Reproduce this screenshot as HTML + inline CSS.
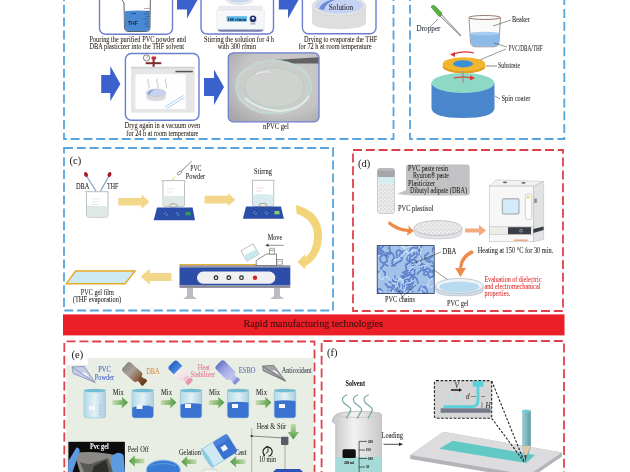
<!DOCTYPE html>
<html><head><meta charset="utf-8">
<style>
html,body{margin:0;padding:0;background:#fff;width:630px;height:472px;overflow:hidden}
svg{display:block;font-family:"Liberation Serif",serif;filter:blur(0.35px)}
</style></head>
<body>
<svg width="630" height="472" viewBox="0 0 630 472">
<defs>
  <linearGradient id="gPhoto" x1="0" y1="0" x2="1" y2="1">
    <stop offset="0" stop-color="#b8b8b8"/><stop offset="0.5" stop-color="#d0d0d0"/><stop offset="1" stop-color="#a8a8a8"/>
  </linearGradient>
</defs>
<rect width="630" height="472" fill="#fff"/>

<!-- ===== panel frames ===== -->
<g fill="none" stroke-width="1.8" stroke-dasharray="9 3.8">
  <path d="M64,-8 V139 H393.5 V-8" stroke="#58a4dc"/>
  <path d="M410,-8 V139 H564.3 V-8" stroke="#58a4dc"/>
  <path d="M64,148 H333 V310.5 H64 Z" stroke="#58a4dc"/>
  <path d="M353,150 H563 V311 H353 Z" stroke="#e0404c"/>
  <path d="M64.3,480 V341.5 H314.5 V480" stroke="#e0404c"/>
  <path d="M321.6,480 V341 H564 V480" stroke="#e0404c"/>
</g>


<!-- ===== panel a ===== -->
<g id="pa">
  <!-- boxes row1 -->
  <g fill="#fff" stroke="#6c7ed0" stroke-width="1.4">
    <rect x="99.5" y="-30" width="73" height="64.3" rx="6"/>
    <rect x="201" y="-30" width="72.5" height="64" rx="6"/>
    <rect x="302.4" y="-30" width="73.6" height="63.7" rx="6"/>
    <rect x="125.4" y="53.5" width="73.6" height="66.8" rx="6"/>
  </g>
  <!-- arrows -->
  <g fill="#3b62cc">
    <path d="M177,-9.5 H187 V-18.5 L197.5,0 L187,18.5 V9.5 H177 Z"/>
    <path d="M278.8,-9.5 H288 V-18.5 L298.5,0 L288,18.5 V9.5 H278.8 Z"/>
    <path d="M101.2,75 H110.3 V66 L120.4,84 L110.3,101.3 V93 H101.2 Z"/>
    <path d="M204,78 H214 V69.4 L224,87 L214,105 V96 H204 Z"/>
  </g>
  <!-- beaker box1 -->
  <g>
    <path d="M120.5,-1 Q123,0 124,3 L124.5,28 Q124.8,31.5 128,31.5 L146.5,31.5 Q150,31.5 150,28 L150.3,1 Q151,-1 152,-2" fill="#fff" stroke="#3a3a3a" stroke-width="0.8"/>
    <path d="M124.6,11.2 Q137,9.8 150,11 L149.8,28 Q149.6,31 146.5,31 L128,31 Q125,31 124.9,28 Z" fill="#4a8ad4"/>
    <text x="127.8" y="24.5" font-size="5.2" font-family="Liberation Sans" font-weight="bold" fill="#1a2440">THF</text>
    <g stroke="#1a2030" stroke-width="0.35"><path d="M144,8.5 H149.5 M145.5,11.5 H149.5 M143.5,14 H149.5 M145.5,16.5 H149.5 M143.5,19 H149.5 M145.5,21.5 H149.5 M143.5,24 H149.5 M145.5,26.5 H149.5"/></g>
    <path d="M131,13.5 H136" stroke="#1a2440" stroke-width="0.6"/>
  </g>
  <!-- balance box2 -->
  <g>
    <ellipse cx="239.5" cy="-0.5" rx="13.5" ry="5" fill="#f0f0f4" stroke="#c8c8d0" stroke-width="0.6"/>
    <ellipse cx="239.5" cy="-1" rx="11" ry="3.8" fill="#c6d6ee"/>
    <path d="M219,6.2 H262 L262.5,10.2 H218.5 Z" fill="#ececf0" stroke="#d4d6dc" stroke-width="0.4"/>
    <path d="M216.6,10.2 H264.5 L264,29.5 Q264,31.2 261,31.2 L220,31.2 Q217,31.2 217,29.5 Z" fill="#f6f7f9" stroke="#dcdee4" stroke-width="0.5"/>
    <path d="M217.5,29.6 H263.5 Q263,31.8 260,31.8 H221 Q218,31.8 217.5,29.6 Z" fill="#7880b0"/>
    <rect x="226.7" y="16.2" width="20.3" height="5.4" fill="#5ab8e8"/>
    <text x="227.6" y="20.8" font-size="4.8" font-weight="bold" fill="#0a1430" textLength="18.5" lengthAdjust="spacingAndGlyphs">100 rfmin</text>
    <circle cx="253" cy="18.9" r="3.9" fill="#c8cce0"/>
    <circle cx="253" cy="18.9" r="3.1" fill="#1e2a6a"/>
    <circle cx="253" cy="18.2" r="1.2" fill="#e8ecf8"/>
    <rect x="250.5" y="23.5" width="5" height="0.8" fill="#778"/>
  </g>
  <!-- dish box3 -->
  <g>
    <path d="M312,6 L312,22 Q312,29 339,29 Q366,29 366,22 L366,6 Z" fill="#dedede"/>
    <ellipse cx="339" cy="6" rx="27" ry="10" fill="#e4e4e4" stroke="#d0d0d0" stroke-width="0.6"/>
    <ellipse cx="339" cy="5.5" rx="24" ry="8" fill="#c6d2f2"/>
    <path d="M319,9 Q322,0 338,-1 Q326,2 324,10 Z" fill="#6d8ad8"/>
    <text x="341" y="9.8" font-size="7.2" text-anchor="middle" fill="#2a2a30" stroke="#2a2a30" stroke-width="0.06">Solution</text>
  </g>
  <!-- vacuum oven -->
  <g>
    <rect x="131" y="66.8" width="63.6" height="45.9" fill="#e6e6e8"/>
    <rect x="131" y="66.8" width="63.6" height="1.6" fill="#d2d2d6"/>
    <rect x="135.4" y="74.2" width="50.3" height="34.8" fill="#fefefe"/>
    <path d="M145.7,62.2 H161.3 V64.2 H145.7 Z" fill="#7a3028"/>
    <rect x="152.6" y="58" width="2" height="8.8" fill="#7a3028"/>
    <circle cx="146.5" cy="57.9" r="3.1" fill="#fff" stroke="#333" stroke-width="0.6"/>
    <path d="M146.5,57.9 L148,56" stroke="#333" stroke-width="0.4"/>
    <rect x="151.5" y="56.6" width="4.6" height="3" rx="1" fill="#c82838"/>
    <rect x="175.4" y="70.8" width="17.4" height="1.5" fill="#555"/>
    <path d="M146.4,92.7 V97 Q146.4,100.9 156,100.9 Q165.7,100.9 165.7,97 V92.7 Z" fill="#dadade"/>
    <ellipse cx="156" cy="92.7" rx="9.7" ry="3.7" fill="#c8d4ee" stroke="#b8b8bc" stroke-width="0.5"/>
    <path d="M147.8,94 Q149,90.5 155,89.6 Q150,91.5 149.5,94.5 Z" fill="#6d8ad8"/>
    <g fill="none" stroke="#b0b0b4" stroke-width="0.7">
      <path d="M148.5,78.7 q-1.6,2.4 0,4.8 q1.6,2.4 0,4.8"/>
      <path d="M157.5,78.7 q-1.6,2.4 0,4.8 q1.6,2.4 0,4.8"/>
      <path d="M166,78.7 q-1.6,2.4 0,4.8 q1.6,2.4 0,4.8"/>
    </g>
    <path d="M164.5,107 L183.5,95.5 M166.5,108.5 L184.5,97.5" stroke="#98c4e8" stroke-width="0.8"/>
  </g>
  <!-- photo -->
  <g>
    <defs>
      <radialGradient id="gPhotoR" cx="0.6" cy="0.4" r="0.75">
        <stop offset="0" stop-color="#cecece"/><stop offset="0.65" stop-color="#c4c4c4"/><stop offset="1" stop-color="#a8a8a8"/>
      </radialGradient>
    </defs>
    <rect x="228.3" y="52.8" width="90.7" height="69" rx="5" fill="url(#gPhotoR)" stroke="#6c7ed0" stroke-width="1.3"/>
    <path d="M274.3,60 L318.5,57.3 L318.5,63.5 L275,63.5 Z" fill="#626264"/>
    <ellipse cx="273.5" cy="87" rx="37.5" ry="26.5" fill="#cbcdcb" stroke="#dfe9e4" stroke-width="1.6"/>
    <ellipse cx="273.5" cy="87" rx="37.5" ry="26.5" fill="none" stroke="#7cb8a0" stroke-width="0.5"/>
    <ellipse cx="274.5" cy="87.5" rx="29.5" ry="19.8" fill="#d0d2d0" stroke="#b0ccc0" stroke-width="0.8"/>
    <path d="M245,98 Q258,110 280,111 Q300,110 309,96" fill="none" stroke="#e2ece6" stroke-width="2"/>
    <path d="M256,74 Q262,71 270,72" stroke="#ececec" stroke-width="1.2" fill="none"/>
  </g>
  <!-- captions -->
  <g font-size="7.2" fill="#2a2218" stroke="#2a2218" stroke-width="0.06">
    <text x="89.4" y="42.4" textLength="96.5" lengthAdjust="spacingAndGlyphs">Pouring the purified PVC powder and</text>
    <text x="89.4" y="48.8" textLength="94.7" lengthAdjust="spacingAndGlyphs">DBA plasticizer into the THF solvent</text>
    <text x="204.1" y="42.4" textLength="69.8" lengthAdjust="spacingAndGlyphs">Stirring the solution for 4 h</text>
    <text x="217.7" y="48.8" textLength="38.4" lengthAdjust="spacingAndGlyphs">with 300 rfmin</text>
    <text x="304" y="42.4" textLength="73.3" lengthAdjust="spacingAndGlyphs">Drying to evaporate the THF</text>
    <text x="298.4" y="48.8" textLength="73.3" lengthAdjust="spacingAndGlyphs">for 72 h at room temperature</text>
    <text x="124.6" y="128.1" textLength="75.6" lengthAdjust="spacingAndGlyphs">Dryg again in a vacuum oven</text>
    <text x="126.3" y="136" textLength="72.1" lengthAdjust="spacingAndGlyphs">for 24 h at room temperature</text>
    <text x="262.9" y="129" textLength="26" lengthAdjust="spacingAndGlyphs">nPVC gel</text>
  </g>
</g>


<!-- ===== panel b ===== -->
<g id="pb">
  <!-- dropper -->
  <path d="M440,16 L459,34.5 L461,36 L459.5,34 L441.5,14.5 Z" fill="#f4f4f4" stroke="#555" stroke-width="0.7"/>
  <path d="M431,7 Q432,4 435,6 L442,13 Q442,16 439,16.5 Z" fill="#5cb040" stroke="#3a7a28" stroke-width="0.5"/>
  <path d="M430,27 L438,19" stroke="#444" stroke-width="0.5"/>
  <text x="416.5" y="31" font-size="7.2" fill="#2a3040" textLength="24" lengthAdjust="spacingAndGlyphs" stroke="#2a3040" stroke-width="0.06">Dropper</text>
  <!-- beaker -->
  <path d="M469,17.5 L470.5,42.5 Q471,46.8 476,46.8 L493.5,46.8 Q498.5,46.8 499,42.5 L500.5,17.5" fill="#fafafa" stroke="#8a7a74" stroke-width="0.8"/>
  <path d="M469.9,33.5 Q485,36 499.6,33.5 L499,42.5 Q498.5,46.4 493.5,46.4 L476,46.4 Q471.4,46.4 470.9,42.5 Z" fill="#8cbbe8"/>
  <ellipse cx="484.7" cy="33.5" rx="14.8" ry="1.8" fill="#a8ccf0"/>
  <ellipse cx="484.7" cy="17.5" rx="15.8" ry="2" fill="none" stroke="#8a6a60" stroke-width="0.9"/>
  <path d="M493,26 L511,20" stroke="#333" stroke-width="0.5"/>
  <text x="512" y="22" font-size="7.2" fill="#2a2a2a" textLength="18" lengthAdjust="spacingAndGlyphs" stroke="#2a2a2a" stroke-width="0.06">Beaker</text>
  <path d="M494,43 L507,47 M470,64 L506,49" stroke="#333" stroke-width="0.5" fill="none"/>
  <text x="508.6" y="51" font-size="7.2" fill="#2a2a2a" textLength="34" lengthAdjust="spacingAndGlyphs" stroke="#2a2a2a" stroke-width="0.06">PVC/DBA/THF</text>
  <!-- red rotation arrows -->
  <path d="M452,54.5 Q462,50 474,53" fill="none" stroke="#e03030" stroke-width="1.2"/>
  <path d="M450,54.5 L455,52 L455,57 Z" fill="#e03030"/>
  <!-- substrate -->
  <ellipse cx="464" cy="66.5" rx="21.4" ry="7" fill="#e0a020"/>
  <ellipse cx="464" cy="64.3" rx="21.4" ry="7" fill="#f2b530"/>
  <ellipse cx="463" cy="63.8" rx="10" ry="3.6" fill="#3a90d8"/>
  <path d="M486,66 L497,66" stroke="#333" stroke-width="0.6"/>
  <text x="498" y="68" font-size="7.2" fill="#2a2a2a" textLength="22" lengthAdjust="spacingAndGlyphs" stroke="#2a2a2a" stroke-width="0.06">Substrate</text>
  <!-- spin coater -->
  <path d="M431.5,83 L431.5,108 Q431.5,118 463,118 Q494.5,118 494.5,108 L494.5,83 Z" fill="#4a86cc"/>
  <ellipse cx="463" cy="83" rx="31.5" ry="10" fill="#8ed8c6"/>
  <rect x="462.2" y="71" width="1.6" height="12" fill="#a89898"/>
  <path d="M454,78 Q463,76 472,78" fill="none" stroke="#e03030" stroke-width="1.2"/>
  <path d="M475,78 L470,75.5 L470,80.5 Z" fill="#e03030"/>
  <path d="M495,96 L500,99" stroke="#333" stroke-width="0.5"/>
  <text x="501.4" y="101" font-size="7.2" fill="#2a2a2a" textLength="29" lengthAdjust="spacingAndGlyphs" stroke="#2a2a2a" stroke-width="0.06">Spin coater</text>
</g>


<!-- ===== panel c ===== -->
<g id="pc">
  <text x="69.5" y="164.3" font-size="10.5" fill="#222" stroke="#222" stroke-width="0.06">(c)</text>
  <!-- droppers -->
  <path d="M86.5,176 L96,191" stroke="#7aa0c8" stroke-width="1.2"/>
  <path d="M109,176 L100.5,191" stroke="#7aa0c8" stroke-width="1.2"/>
  <ellipse cx="86" cy="174.5" rx="1.8" ry="2.5" fill="#a81828" transform="rotate(-30 86 174.5)"/>
  <ellipse cx="109.5" cy="174.5" rx="1.8" ry="2.5" fill="#a81828" transform="rotate(30 109.5 174.5)"/>
  <text x="76" y="188.5" font-size="7.2" fill="#222" textLength="13.4" lengthAdjust="spacingAndGlyphs" stroke="#222" stroke-width="0.06">DBA</text>
  <text x="107" y="188.5" font-size="7.2" fill="#222" textLength="11.3" lengthAdjust="spacingAndGlyphs" stroke="#222" stroke-width="0.06">THF</text>
  <!-- beaker 1 -->
  <path d="M85.5,191.7 H108.5 L108,193.5 V215 Q108,217.2 105.5,217.2 H89 Q86.5,217.2 86.5,215 V193.5 Z" fill="#fff" stroke="#9aa0a4" stroke-width="0.7"/>
  <path d="M86.8,206 H107.7 V215 Q107.7,217 105.5,217 H89 Q86.8,217 86.8,215 Z" fill="#dfe9e4"/>
  <path d="M92,199 H100 M92,202 H98 M92,204.5 H99" stroke="#cfcfd4" stroke-width="0.5"/>
  <!-- yellow arrows -->
  <g fill="#f2d68a">
    <path d="M118.3,198 H141.5 V194.5 L149.5,201.7 L141.5,209 V205.5 H118.3 Z"/>
    <path d="M204.5,195.7 H228 V193.3 L235.5,199.7 L228,206 V203.6 H204.5 Z"/>
    <path d="M171.5,273 H149.8 V268.6 L140.6,276.7 L149.8,284.5 V281 H171.5 Z"/>
  </g>
  <!-- curved yellow arrow -->
  <path d="M296,205 Q323,212 322,238 Q321,257 305.2,266.5 L305.2,269.6 L297.4,261.9 L305.2,254.1 L305.2,257.5 Q313.5,251 314,237 Q314.5,220 296.5,213.5 Z" fill="#f2d47a"/>
  <!-- stirrer 1 -->
  <g>
    <path d="M162,180.6 H185 L184.5,182.5 V205 Q184.5,206.5 182.5,206.5 H165 Q163,206.5 163,205 V182.5 Z" fill="#fff" stroke="#9aa0a4" stroke-width="0.7"/>
    <path d="M163.3,196 H184.2 V205 Q184.2,206.3 182.5,206.3 H165 Q163.3,206.3 163.3,205 Z" fill="#dfe9e4"/>
    <path d="M167,189 H175 M167,192 H173" stroke="#cfcfd4" stroke-width="0.5"/>
    <path d="M157,207.6 H192.6 L195,220.3 H153.7 Z" fill="#2c4ea8"/>
    <ellipse cx="173.5" cy="205.5" rx="4" ry="1.6" fill="#eee" stroke="#555" stroke-width="0.5"/>
    <circle cx="166" cy="214" r="2.6" fill="#3d7ad0" stroke="#1a2a60" stroke-width="0.4"/><path d="M164.2,215.8 L167.8,212.2" stroke="#1a2040" stroke-width="0.7"/>
    <circle cx="177.5" cy="214" r="2.6" fill="#3d7ad0" stroke="#1a2a60" stroke-width="0.4"/><path d="M175.7,215.8 L179.3,212.2" stroke="#1a2040" stroke-width="0.7"/>
    <rect x="185.5" y="212" width="5" height="3.4" fill="#2aa050"/>
    <path d="M191.8,161 L181,171.5" stroke="#555" stroke-width="0.7"/>
    <ellipse cx="179.5" cy="173" rx="2.4" ry="1.4" fill="#fff" stroke="#555" stroke-width="0.6" transform="rotate(-40 179.5 173)"/>
    <path d="M176,175 L171,180 L174,180 Z" fill="#f4e8b0"/>
    <text x="195.8" y="171" font-size="7.2" fill="#222" text-anchor="middle" stroke="#222" stroke-width="0.06" textLength="11.1" lengthAdjust="spacingAndGlyphs">PVC</text>
    <text x="195.5" y="179" font-size="7.2" fill="#222" text-anchor="middle" stroke="#222" stroke-width="0.06" textLength="19.3" lengthAdjust="spacingAndGlyphs">Powder</text>
  </g>
  <!-- stirrer 2 -->
  <g>
    <path d="M252,180.3 H274.2 L273.7,182.2 V205 Q273.7,206.5 271.7,206.5 H254.5 Q252.5,206.5 252.5,205 V182.2 Z" fill="#fff" stroke="#9aa0a4" stroke-width="0.7"/>
    <path d="M252.8,195 Q263,193 273.4,195 V205 Q273.4,206.3 271.7,206.3 H254.5 Q252.8,206.3 252.8,205 Z" fill="#d8ecf0"/>
    <path d="M256,188 H264 M256,191 H262" stroke="#e8b8c0" stroke-width="0.5"/>
    <path d="M246,206.5 H281 L283.9,218.7 H242.9 Z" fill="#2c4ea8"/>
    <ellipse cx="263" cy="205" rx="4" ry="1.6" fill="#eee" stroke="#555" stroke-width="0.5"/>
    <circle cx="255" cy="213" r="2.6" fill="#3d7ad0" stroke="#1a2a60" stroke-width="0.4"/><path d="M253.2,214.8 L256.8,211.2" stroke="#1a2040" stroke-width="0.7"/>
    <circle cx="266.5" cy="213" r="2.6" fill="#3d7ad0" stroke="#1a2a60" stroke-width="0.4"/><path d="M264.7,214.8 L268.3,211.2" stroke="#1a2040" stroke-width="0.7"/>
    <rect x="274.5" y="211" width="5" height="3.4" fill="#8ad060"/>
    <text x="263" y="174" font-size="7.2" fill="#222" text-anchor="middle" stroke="#222" stroke-width="0.06" textLength="17.8" lengthAdjust="spacingAndGlyphs">Stirrng</text>
  </g>
  <!-- coating machine -->
  <g>
    <rect x="179.5" y="264" width="77" height="1.8" fill="#e8b030"/>
    <rect x="179.5" y="265.2" width="110.8" height="2.6" fill="#9a9aa8"/>
    <rect x="179.5" y="267.5" width="110.8" height="18" fill="#2c4ea8"/>
    <rect x="179.5" y="285.5" width="110.8" height="2.4" fill="#8a8a98"/>
    <rect x="197" y="271.6" width="78.4" height="12.2" rx="6.1" fill="#f0f0f2"/>
    <g fill="none" stroke="#222" stroke-width="1.2">
      <circle cx="216" cy="277.7" r="1.8"/><circle cx="228.8" cy="277.7" r="1.8"/><circle cx="241.5" cy="277.7" r="1.8"/>
    </g>
    <circle cx="255" cy="277.7" r="2.2" fill="#d82020"/>
    <path d="M187,288 H193 V296 L197,299 H183 L187,296 Z" fill="#bcbcc4"/>
    <path d="M274,288 H280 V296 L284,299 H270 L274,296 Z" fill="#bcbcc4"/>
    <!-- coater head -->
    <path d="M256.2,265.5 V260.5 L266.5,254 H276.5 V265.5 Z" fill="#fff" stroke="#444" stroke-width="0.6"/>
    <rect x="269.7" y="250" width="4.5" height="4" fill="#fff" stroke="#555" stroke-width="0.5"/>
    <rect x="269.4" y="248.3" width="5.1" height="2" rx="0.6" fill="#fff" stroke="#555" stroke-width="0.5"/>
    <rect x="276.7" y="259.5" width="5.5" height="6" fill="#fff" stroke="#555" stroke-width="0.5"/>
    <rect x="277.8" y="261" width="3.3" height="3.5" fill="#fff" stroke="#888" stroke-width="0.4"/>
    <!-- tilted cup -->
    <g transform="rotate(-30 250 252.5)">
      <rect x="243" y="246.5" width="14" height="12" fill="#fff" stroke="#8a8a8a" stroke-width="0.5"/>
      <rect x="243.3" y="252.5" width="13.4" height="5.7" fill="#c4eaf0"/>
    </g>
    <text x="275" y="240" font-size="7.2" fill="#222" text-anchor="middle" stroke="#222" stroke-width="0.06" textLength="14.4" lengthAdjust="spacingAndGlyphs">Move</text>
    <path d="M283.7,245.3 H267" stroke="#444" stroke-width="0.6"/>
    <path d="M265.3,245.3 L268.5,243.6 L268.5,247 Z" fill="#444"/>
  </g>
  <!-- film -->
  <path d="M75.6,271 H135 L125,283.7 H66.3 Z" fill="#cdeaf2" stroke="#e8a820" stroke-width="1.4"/>
  <text x="97.3" y="294.5" font-size="7.2" fill="#222" text-anchor="middle" stroke="#222" stroke-width="0.06" textLength="33" lengthAdjust="spacingAndGlyphs">PVC gel film</text>
  <text x="97" y="302" font-size="7.2" fill="#222" text-anchor="middle" stroke="#222" stroke-width="0.06" textLength="48.4" lengthAdjust="spacingAndGlyphs">(THF evaporation)</text>
</g>


<!-- ===== panel d ===== -->
<g id="pd">
  <defs>
    <pattern id="speck" width="4" height="4" patternUnits="userSpaceOnUse">
      <rect width="4" height="4" fill="#ececec"/>
      <circle cx="1" cy="1" r="0.6" fill="#a8a8b0"/><circle cx="3" cy="2.8" r="0.55" fill="#b8b8c0"/>
    </pattern>
    <pattern id="chains" width="14" height="12" patternUnits="userSpaceOnUse">
      <rect width="14" height="12" fill="#8ab4e8"/>
      <path d="M0,3 Q4,0 7,4 T14,3 M2,10 Q6,6 9,9 T14,8 M3,0 Q1,6 5,7" fill="none" stroke="#3a62b8" stroke-width="1.2"/>
      <path d="M8,1 Q12,4 10,7 M1,6 Q4,8 3,12" fill="none" stroke="#bcd6f4" stroke-width="0.9"/>
    </pattern>
  </defs>
  <text x="358" y="166.5" font-size="10.5" fill="#222" stroke="#222" stroke-width="0.06">(d)</text>
  <!-- vial -->
  <rect x="377.5" y="169" width="17" height="44.5" rx="2.5" fill="#e8f2f4" stroke="#a8b0b4" stroke-width="0.6"/>
  <rect x="377.3" y="168.3" width="17.4" height="9" rx="2.5" fill="#a4a6aa"/>
  <ellipse cx="386" cy="169.5" rx="8.4" ry="1.5" fill="#b8babe"/>
  <rect x="378" y="177.2" width="16" height="6.5" fill="#d6eef2"/>
  <rect x="378.3" y="184" width="15.4" height="28.8" fill="url(#speck)"/>
  <!-- callout -->
  <path d="M409,164.4 H467 Q469.7,164.4 469.7,167 V192.5 Q469.7,195.4 467,195.4 H412 L397,194 L406,190 V167 Q406,164.4 409,164.4 Z" fill="#c2c2c4"/>
  <g font-size="7.4" fill="#222" stroke="#222" stroke-width="0.05">
    <text x="408" y="171" textLength="40" lengthAdjust="spacingAndGlyphs">PVC paste resin</text>
    <text x="413" y="177.5" textLength="36" lengthAdjust="spacingAndGlyphs">Ryuron® paste</text>
    <text x="408" y="185.5" textLength="27" lengthAdjust="spacingAndGlyphs">Plasticizer</text>
    <text x="410" y="192.5" textLength="57" lengthAdjust="spacingAndGlyphs">Dibutyl adipate (DBA)</text>
    <text x="398" y="211" textLength="35.5" lengthAdjust="spacingAndGlyphs">PVC plastisol</text>
  </g>
  <!-- dish -->
  <path d="M414,228 V232 Q414,239 438,239 Q462,239 462,232 V228 Z" fill="#e0e2e6" stroke="#b8bcc4" stroke-width="0.5"/>
  <ellipse cx="438" cy="228" rx="24" ry="7.5" fill="url(#speck)" stroke="#b0b4bc" stroke-width="0.7"/>
  <!-- orange arrows -->
  <path d="M389,221 Q398,228 409,229 L408,225.5 L414,231 L407,235.5 L407.5,232 Q396,231 388,224 Z" fill="#f08a4a"/>
  <path d="M465,228.5 H479 V225 L486,230.5 L479,236 V232.5 H465 Z" fill="#f4a070" opacity="0.9"/>
  <path d="M474,253 Q463,258 462,268 L466,268 L460.5,277 L455,268 L459,268 Q460,255 472,250 Z" fill="#f08a4a"/>
  <!-- oven -->
  <path d="M489.5,186.1 L495.9,179.8 L543.6,181.4 L533.3,186.1 Z" fill="#f2f2f2" stroke="#b8b8bc" stroke-width="0.5"/>
  <path d="M533.3,186.1 L543.6,181.4 L543.6,239.4 L533.3,241.8 Z" fill="#e2e2e4" stroke="#b8b8bc" stroke-width="0.5"/>
  <rect x="489.5" y="186.1" width="43.8" height="55.7" fill="#f7f7f7" stroke="#b4b4b8" stroke-width="0.5"/>
  <ellipse cx="505" cy="182.3" rx="2.2" ry="0.9" fill="#666"/>
  <ellipse cx="523.5" cy="182.8" rx="2.2" ry="0.9" fill="#666"/>
  <rect x="502.3" y="198.8" width="16.7" height="15.2" rx="1" fill="#d4eaf8" stroke="#8a8e94" stroke-width="0.8"/>
  <rect x="525.3" y="194" width="6.4" height="25.5" rx="2" fill="#fcfcfc" stroke="#a8a8ac" stroke-width="0.5"/>
  <rect x="526.8" y="195.8" width="2.6" height="2.6" fill="#e8d070"/>
  <rect x="534" y="198.5" width="3" height="4.5" fill="#999"/>
  <rect x="489.5" y="226.7" width="43.8" height="7.9" fill="#ecece6" stroke="#aaa" stroke-width="0.4"/>
  <rect x="508" y="227.2" width="23" height="7" fill="#3a3e48"/>
  <circle cx="521" cy="230.7" r="1.4" fill="none" stroke="#ddd" stroke-width="0.5"/>
  <path d="M533.3,229 L543.6,226.5 L543.6,230 L533.3,233 Z" fill="#3a3e48"/>
  <rect x="514.2" y="239.5" width="13.5" height="1.4" fill="#e8a070"/>
  <text x="477.8" y="252.5" font-size="7.2" fill="#222" textLength="75.5" lengthAdjust="spacingAndGlyphs" stroke="#222" stroke-width="0.06">Heating at 150 °C for 30 min.</text>
  <!-- chains -->
  <clipPath id="clipCh"><rect x="377.2" y="245.6" width="57" height="48"/></clipPath>
  <rect x="377.2" y="245.6" width="57" height="48" fill="#a2c2ea"/>
  <g clip-path="url(#clipCh)" fill="none" stroke-linecap="round">
    <path d="M402.8,272.7 Q404.7,271.9 406.5,270.2 Q406.2,268.6 405.8,265.7 Q405.5,263.3 409.2,262.9 Q409.5,262.0 406.8,259.1 M377.8,294.7 Q380.5,293.7 382.0,296.1 Q382.5,291.7 382.7,291.7 Q379.6,288.0 379.0,289.1 Q376.7,289.8 375.0,287.0 M406.9,276.9 Q404.8,274.5 403.1,274.4 Q407.2,274.6 406.3,271.3 Q407.7,269.9 410.8,271.2 Q410.3,271.0 414.0,268.0 M399.6,287.6 Q400.0,283.3 397.0,284.0 Q396.8,284.1 392.5,284.5 Q392.1,280.1 392.7,280.0 Q395.2,276.9 394.9,276.1 M380.5,260.9 Q380.3,261.1 384.0,263.8 Q383.4,263.8 387.3,260.8 Q386.9,258.4 385.9,256.5 Q384.8,254.4 381.4,255.9 M414.5,249.7 Q413.2,254.3 414.3,254.2 Q411.3,257.0 410.2,256.1 Q409.5,260.1 409.8,260.6 Q406.6,264.9 407.3,264.3 M388.2,257.0 Q386.2,252.9 386.1,253.0 Q384.5,252.6 382.0,254.7 Q379.1,254.5 377.5,254.8 Q377.5,252.9 377.8,250.3 M428.1,253.1 Q427.9,253.3 424.6,256.0 Q426.4,260.4 425.7,260.4 Q430.2,262.8 430.1,261.4 Q431.6,260.7 433.8,263.9 M377.6,293.7 Q375.0,297.1 374.8,297.2 Q371.9,296.8 371.0,299.6 Q366.6,297.7 366.6,298.6 Q366.3,298.2 362.5,296.6 M392.3,291.3 Q393.2,290.0 396.3,289.3 Q393.7,286.6 394.3,285.3 Q392.0,282.4 393.3,280.9 Q397.8,280.9 397.5,279.3 M417.4,274.0 Q416.5,274.4 420.5,270.8 Q425.1,268.2 425.0,270.5 Q427.0,272.6 429.1,272.3 Q433.8,269.7 433.5,271.3 M408.5,281.9 Q411.7,283.9 412.9,282.9 Q411.8,286.1 412.2,287.4 Q411.8,286.9 407.7,287.3 Q408.5,285.7 405.6,283.4 M413.3,263.5 Q409.8,262.4 410.6,259.9 Q414.5,260.1 414.6,257.9 Q417.2,256.7 417.5,254.5 Q420.3,250.5 419.7,250.6 M421.0,245.1 Q417.7,244.9 417.2,242.7 Q415.8,243.7 413.3,240.4 Q408.8,240.1 409.1,241.8 Q405.5,239.4 404.8,240.4 M430.4,277.9 Q428.5,276.8 428.2,274.0 Q425.6,275.7 423.7,274.2 Q425.3,271.4 423.1,269.7 Q422.6,265.7 423.9,265.3 M405.5,287.1 Q409.9,285.6 409.9,286.3 Q410.1,282.9 410.7,281.8 Q408.6,281.0 407.4,278.8 Q404.7,279.1 404.0,275.9 M435.1,267.1 Q437.7,262.7 436.7,262.9 Q439.0,260.9 440.7,260.9 Q440.2,260.3 444.4,263.4 Q444.1,265.9 448.5,265.2 M389.7,250.9 Q391.0,253.1 392.9,254.0 Q395.0,258.5 394.1,258.4 Q391.7,260.3 392.3,262.5 Q391.4,264.0 395.3,265.8 M418.8,252.9 Q420.7,255.1 420.6,257.0 Q421.9,258.7 420.6,261.5 Q420.7,260.6 416.7,263.8 Q416.7,260.0 414.4,259.9 M402.9,276.1 Q404.4,276.1 405.3,272.3 Q409.7,272.3 409.7,272.6 Q410.1,274.9 413.5,275.1 Q413.8,278.4 412.7,279.5 M388.2,290.4 Q388.3,294.1 388.1,294.9 Q391.5,298.5 390.7,298.5 Q390.7,299.1 394.9,300.3 Q398.1,301.5 398.6,302.8 M376.9,285.7 Q375.5,287.1 377.3,290.2 Q373.7,289.7 373.7,292.8 Q372.9,295.7 369.9,295.2 Q369.9,294.9 365.4,294.7 M433.1,248.1 Q432.2,251.5 433.5,252.6 Q432.7,256.3 431.7,256.7 Q429.4,257.9 429.0,260.3 Q428.9,258.2 424.7,259.0 M427.1,294.0 Q423.5,293.2 423.0,292.2 Q421.5,288.9 418.9,290.3 Q420.1,287.9 421.2,286.4 Q423.8,286.5 425.7,286.7 M417.4,247.0 Q417.4,249.3 412.9,247.3 Q411.3,247.2 410.1,250.9 Q410.7,254.9 408.2,254.9 Q406.5,255.5 406.6,259.2 M412.9,291.7 Q410.0,292.4 411.8,296.1 Q414.2,296.9 414.8,299.4 Q417.5,298.1 419.1,300.8 Q418.1,302.9 420.9,304.9 M390.5,253.9 Q387.6,253.5 386.0,254.1 Q382.0,252.4 381.5,253.8 Q380.3,252.7 377.6,251.4 Q378.7,251.0 378.7,247.1 M389.4,282.1 Q390.6,281.8 393.7,283.3 Q391.9,288.0 392.8,287.7 Q388.7,286.3 388.3,287.5 Q385.6,283.8 385.3,284.1 M426.0,265.5 Q423.5,265.4 422.0,263.5 Q419.8,266.5 420.6,267.8 Q420.7,265.4 416.2,266.8 Q415.3,266.3 411.8,265.7 M417.0,253.4 Q416.0,251.8 419.6,249.7 Q421.3,246.1 422.3,246.1 Q419.7,245.8 420.2,242.1 Q424.5,239.5 424.5,240.8 M379.0,293.1 Q376.4,291.4 375.6,290.1 Q373.6,289.1 372.3,287.0 Q372.1,290.6 369.8,290.8 Q370.8,293.9 372.2,294.6 M399.9,253.7 Q398.6,257.7 402.0,257.7 Q401.8,261.4 399.5,261.4 Q397.1,263.0 395.6,263.6 Q396.0,266.2 391.6,265.8 M391.0,291.0 Q394.4,289.2 394.6,288.4 Q398.1,291.0 397.7,291.7 Q398.6,293.4 396.8,296.1 Q392.7,296.5 393.0,298.5 M403.8,244.2 Q402.4,243.7 399.7,245.9 Q399.7,243.0 398.0,241.8 Q398.8,239.7 398.9,237.3 Q400.9,235.9 398.0,232.9 M418.0,283.2 Q417.9,282.2 416.8,278.9 Q414.2,275.7 412.6,277.0 Q410.3,276.4 409.1,279.9 Q411.2,282.4 409.1,284.4 M406.2,293.9 Q408.2,293.6 408.9,290.3 Q407.6,290.2 405.4,287.4 Q406.2,287.6 402.8,291.1 Q400.0,293.0 400.6,295.0 M412.5,246.6 Q414.4,245.8 416.1,244.0 Q416.0,242.7 418.1,239.9 Q418.4,239.3 420.9,236.4 Q418.3,232.9 420.6,231.9 M377.8,251.7 Q379.0,250.9 376.2,247.5 Q376.6,250.7 372.1,249.4 Q374.9,251.1 373.8,253.5 Q377.1,254.3 375.8,257.6 M407.1,292.3 Q408.9,291.8 405.8,288.0 Q404.1,286.4 406.2,283.5 Q404.6,279.1 405.9,279.1 Q404.1,276.5 406.0,274.6 M415.9,267.3 Q414.7,270.8 414.3,271.5 Q415.8,275.7 412.2,275.5 Q408.7,274.1 407.9,276.6 Q408.4,275.1 406.1,272.4 M397.1,257.7 Q397.2,256.2 396.3,253.3 Q396.3,250.4 399.3,250.0 Q402.8,253.6 402.2,253.5 Q401.6,250.7 405.4,250.3 M401.1,276.0 Q400.6,275.6 404.3,279.2 Q404.9,282.1 404.9,283.7 Q406.1,284.1 407.5,287.4 Q410.8,290.0 411.6,289.2 M379.7,249.8 Q382.7,246.9 383.0,246.7 Q383.0,246.4 385.3,242.9 Q386.3,243.1 385.6,238.4 Q384.7,237.7 383.3,234.6 M431.4,265.8 Q434.7,265.4 434.3,269.3 Q436.4,267.9 437.9,266.6 Q439.1,268.1 442.4,266.8 Q441.1,265.3 442.8,262.3 M380.2,259.4 Q380.3,255.7 382.5,255.5 Q383.7,252.6 382.6,251.0 Q381.5,250.9 378.2,250.1 Q380.8,249.9 378.9,245.6 M401.9,285.4 Q402.1,289.7 403.3,289.6 Q400.0,290.0 399.3,291.7 Q397.3,293.0 396.7,295.3 Q394.6,297.8 395.7,299.7 M423.8,271.7 Q423.8,271.4 426.9,268.5 Q427.7,267.3 430.7,270.9 Q432.8,272.5 434.4,273.5 Q433.6,276.7 431.4,276.9 M379.1,272.0 Q374.9,272.5 374.8,270.7 Q373.1,269.1 375.6,266.2 Q374.8,266.0 371.6,264.2 Q368.2,266.5 367.5,266.2 M407.0,283.4 Q408.6,286.4 405.6,287.6 Q405.1,290.9 404.3,291.9 Q404.4,292.6 400.4,294.2 Q399.4,294.6 396.8,291.4 M424.4,287.0 Q426.4,288.9 427.0,290.6 Q428.2,292.4 426.4,295.1 Q425.0,298.5 427.1,299.5 Q424.2,297.8 422.6,299.3 M387.7,265.7 Q383.4,263.9 383.5,264.0 Q383.0,267.3 381.1,267.8 Q380.1,269.5 383.6,271.6 Q386.2,271.4 384.8,275.9 M381.8,253.2 Q385.0,254.6 386.0,255.0 Q386.3,252.7 389.7,252.5 Q390.6,249.4 388.9,248.1 Q390.4,245.8 388.8,243.6 M391.1,289.7 Q392.3,290.0 393.1,285.7 Q392.6,281.4 394.8,281.6 Q398.4,281.9 398.9,283.5 Q400.9,283.5 402.8,285.8 M435.6,277.8 Q437.6,276.6 439.9,276.6 Q442.6,278.7 443.1,279.8 Q443.4,278.0 447.2,277.9 Q449.6,275.8 448.4,273.6 M414.1,295.2 Q411.8,298.8 413.0,299.6 Q416.9,301.4 417.5,299.6 Q416.3,300.6 419.3,303.8 Q416.5,305.8 417.7,308.0" stroke="#4a6cc0" stroke-width="1.5"/>
    <path d="M402.8,272.7 Q404.7,271.9 406.5,270.2 Q406.2,268.6 405.8,265.7 Q405.5,263.3 409.2,262.9 Q409.5,262.0 406.8,259.1 M377.8,294.7 Q380.5,293.7 382.0,296.1 Q382.5,291.7 382.7,291.7 Q379.6,288.0 379.0,289.1 Q376.7,289.8 375.0,287.0 M406.9,276.9 Q404.8,274.5 403.1,274.4 Q407.2,274.6 406.3,271.3 Q407.7,269.9 410.8,271.2 Q410.3,271.0 414.0,268.0 M399.6,287.6 Q400.0,283.3 397.0,284.0 Q396.8,284.1 392.5,284.5 Q392.1,280.1 392.7,280.0 Q395.2,276.9 394.9,276.1 M380.5,260.9 Q380.3,261.1 384.0,263.8 Q383.4,263.8 387.3,260.8 Q386.9,258.4 385.9,256.5 Q384.8,254.4 381.4,255.9 M414.5,249.7 Q413.2,254.3 414.3,254.2 Q411.3,257.0 410.2,256.1 Q409.5,260.1 409.8,260.6 Q406.6,264.9 407.3,264.3 M388.2,257.0 Q386.2,252.9 386.1,253.0 Q384.5,252.6 382.0,254.7 Q379.1,254.5 377.5,254.8 Q377.5,252.9 377.8,250.3 M428.1,253.1 Q427.9,253.3 424.6,256.0 Q426.4,260.4 425.7,260.4 Q430.2,262.8 430.1,261.4 Q431.6,260.7 433.8,263.9 M377.6,293.7 Q375.0,297.1 374.8,297.2 Q371.9,296.8 371.0,299.6 Q366.6,297.7 366.6,298.6 Q366.3,298.2 362.5,296.6 M392.3,291.3 Q393.2,290.0 396.3,289.3 Q393.7,286.6 394.3,285.3 Q392.0,282.4 393.3,280.9 Q397.8,280.9 397.5,279.3 M417.4,274.0 Q416.5,274.4 420.5,270.8 Q425.1,268.2 425.0,270.5 Q427.0,272.6 429.1,272.3 Q433.8,269.7 433.5,271.3 M408.5,281.9 Q411.7,283.9 412.9,282.9 Q411.8,286.1 412.2,287.4 Q411.8,286.9 407.7,287.3 Q408.5,285.7 405.6,283.4 M413.3,263.5 Q409.8,262.4 410.6,259.9 Q414.5,260.1 414.6,257.9 Q417.2,256.7 417.5,254.5 Q420.3,250.5 419.7,250.6 M421.0,245.1 Q417.7,244.9 417.2,242.7 Q415.8,243.7 413.3,240.4 Q408.8,240.1 409.1,241.8 Q405.5,239.4 404.8,240.4 M430.4,277.9 Q428.5,276.8 428.2,274.0 Q425.6,275.7 423.7,274.2 Q425.3,271.4 423.1,269.7 Q422.6,265.7 423.9,265.3 M405.5,287.1 Q409.9,285.6 409.9,286.3 Q410.1,282.9 410.7,281.8 Q408.6,281.0 407.4,278.8 Q404.7,279.1 404.0,275.9 M435.1,267.1 Q437.7,262.7 436.7,262.9 Q439.0,260.9 440.7,260.9 Q440.2,260.3 444.4,263.4 Q444.1,265.9 448.5,265.2 M389.7,250.9 Q391.0,253.1 392.9,254.0 Q395.0,258.5 394.1,258.4 Q391.7,260.3 392.3,262.5 Q391.4,264.0 395.3,265.8 M418.8,252.9 Q420.7,255.1 420.6,257.0 Q421.9,258.7 420.6,261.5 Q420.7,260.6 416.7,263.8 Q416.7,260.0 414.4,259.9 M402.9,276.1 Q404.4,276.1 405.3,272.3 Q409.7,272.3 409.7,272.6 Q410.1,274.9 413.5,275.1 Q413.8,278.4 412.7,279.5 M388.2,290.4 Q388.3,294.1 388.1,294.9 Q391.5,298.5 390.7,298.5 Q390.7,299.1 394.9,300.3 Q398.1,301.5 398.6,302.8 M376.9,285.7 Q375.5,287.1 377.3,290.2 Q373.7,289.7 373.7,292.8 Q372.9,295.7 369.9,295.2 Q369.9,294.9 365.4,294.7 M433.1,248.1 Q432.2,251.5 433.5,252.6 Q432.7,256.3 431.7,256.7 Q429.4,257.9 429.0,260.3 Q428.9,258.2 424.7,259.0 M427.1,294.0 Q423.5,293.2 423.0,292.2 Q421.5,288.9 418.9,290.3 Q420.1,287.9 421.2,286.4 Q423.8,286.5 425.7,286.7 M417.4,247.0 Q417.4,249.3 412.9,247.3 Q411.3,247.2 410.1,250.9 Q410.7,254.9 408.2,254.9 Q406.5,255.5 406.6,259.2 M412.9,291.7 Q410.0,292.4 411.8,296.1 Q414.2,296.9 414.8,299.4 Q417.5,298.1 419.1,300.8 Q418.1,302.9 420.9,304.9 M390.5,253.9 Q387.6,253.5 386.0,254.1 Q382.0,252.4 381.5,253.8 Q380.3,252.7 377.6,251.4 Q378.7,251.0 378.7,247.1 M389.4,282.1 Q390.6,281.8 393.7,283.3 Q391.9,288.0 392.8,287.7 Q388.7,286.3 388.3,287.5 Q385.6,283.8 385.3,284.1 M426.0,265.5 Q423.5,265.4 422.0,263.5 Q419.8,266.5 420.6,267.8 Q420.7,265.4 416.2,266.8 Q415.3,266.3 411.8,265.7 M417.0,253.4 Q416.0,251.8 419.6,249.7 Q421.3,246.1 422.3,246.1 Q419.7,245.8 420.2,242.1 Q424.5,239.5 424.5,240.8 M379.0,293.1 Q376.4,291.4 375.6,290.1 Q373.6,289.1 372.3,287.0 Q372.1,290.6 369.8,290.8 Q370.8,293.9 372.2,294.6 M399.9,253.7 Q398.6,257.7 402.0,257.7 Q401.8,261.4 399.5,261.4 Q397.1,263.0 395.6,263.6 Q396.0,266.2 391.6,265.8 M391.0,291.0 Q394.4,289.2 394.6,288.4 Q398.1,291.0 397.7,291.7 Q398.6,293.4 396.8,296.1 Q392.7,296.5 393.0,298.5 M403.8,244.2 Q402.4,243.7 399.7,245.9 Q399.7,243.0 398.0,241.8 Q398.8,239.7 398.9,237.3 Q400.9,235.9 398.0,232.9 M418.0,283.2 Q417.9,282.2 416.8,278.9 Q414.2,275.7 412.6,277.0 Q410.3,276.4 409.1,279.9 Q411.2,282.4 409.1,284.4 M406.2,293.9 Q408.2,293.6 408.9,290.3 Q407.6,290.2 405.4,287.4 Q406.2,287.6 402.8,291.1 Q400.0,293.0 400.6,295.0 M412.5,246.6 Q414.4,245.8 416.1,244.0 Q416.0,242.7 418.1,239.9 Q418.4,239.3 420.9,236.4 Q418.3,232.9 420.6,231.9 M377.8,251.7 Q379.0,250.9 376.2,247.5 Q376.6,250.7 372.1,249.4 Q374.9,251.1 373.8,253.5 Q377.1,254.3 375.8,257.6 M407.1,292.3 Q408.9,291.8 405.8,288.0 Q404.1,286.4 406.2,283.5 Q404.6,279.1 405.9,279.1 Q404.1,276.5 406.0,274.6 M415.9,267.3 Q414.7,270.8 414.3,271.5 Q415.8,275.7 412.2,275.5 Q408.7,274.1 407.9,276.6 Q408.4,275.1 406.1,272.4 M397.1,257.7 Q397.2,256.2 396.3,253.3 Q396.3,250.4 399.3,250.0 Q402.8,253.6 402.2,253.5 Q401.6,250.7 405.4,250.3 M401.1,276.0 Q400.6,275.6 404.3,279.2 Q404.9,282.1 404.9,283.7 Q406.1,284.1 407.5,287.4 Q410.8,290.0 411.6,289.2 M379.7,249.8 Q382.7,246.9 383.0,246.7 Q383.0,246.4 385.3,242.9 Q386.3,243.1 385.6,238.4 Q384.7,237.7 383.3,234.6 M431.4,265.8 Q434.7,265.4 434.3,269.3 Q436.4,267.9 437.9,266.6 Q439.1,268.1 442.4,266.8 Q441.1,265.3 442.8,262.3 M380.2,259.4 Q380.3,255.7 382.5,255.5 Q383.7,252.6 382.6,251.0 Q381.5,250.9 378.2,250.1 Q380.8,249.9 378.9,245.6 M401.9,285.4 Q402.1,289.7 403.3,289.6 Q400.0,290.0 399.3,291.7 Q397.3,293.0 396.7,295.3 Q394.6,297.8 395.7,299.7 M423.8,271.7 Q423.8,271.4 426.9,268.5 Q427.7,267.3 430.7,270.9 Q432.8,272.5 434.4,273.5 Q433.6,276.7 431.4,276.9 M379.1,272.0 Q374.9,272.5 374.8,270.7 Q373.1,269.1 375.6,266.2 Q374.8,266.0 371.6,264.2 Q368.2,266.5 367.5,266.2 M407.0,283.4 Q408.6,286.4 405.6,287.6 Q405.1,290.9 404.3,291.9 Q404.4,292.6 400.4,294.2 Q399.4,294.6 396.8,291.4 M424.4,287.0 Q426.4,288.9 427.0,290.6 Q428.2,292.4 426.4,295.1 Q425.0,298.5 427.1,299.5 Q424.2,297.8 422.6,299.3 M387.7,265.7 Q383.4,263.9 383.5,264.0 Q383.0,267.3 381.1,267.8 Q380.1,269.5 383.6,271.6 Q386.2,271.4 384.8,275.9 M381.8,253.2 Q385.0,254.6 386.0,255.0 Q386.3,252.7 389.7,252.5 Q390.6,249.4 388.9,248.1 Q390.4,245.8 388.8,243.6 M391.1,289.7 Q392.3,290.0 393.1,285.7 Q392.6,281.4 394.8,281.6 Q398.4,281.9 398.9,283.5 Q400.9,283.5 402.8,285.8 M435.6,277.8 Q437.6,276.6 439.9,276.6 Q442.6,278.7 443.1,279.8 Q443.4,278.0 447.2,277.9 Q449.6,275.8 448.4,273.6 M414.1,295.2 Q411.8,298.8 413.0,299.6 Q416.9,301.4 417.5,299.6 Q416.3,300.6 419.3,303.8 Q416.5,305.8 417.7,308.0" stroke="#86a8e0" stroke-width="0.5"/>
    <path d="M403.8,293.3 Q403.4,292.6 404.9,288.9 Q406.9,284.6 404.8,284.4 Q405.3,283.7 408.8,282.5 Q409.2,283.4 413.1,281.0 M394.2,259.8 Q396.2,260.3 398.6,258.8 Q401.2,255.3 401.9,255.8 Q402.8,256.1 404.0,251.8 Q407.0,249.5 408.4,252.1 M398.2,280.5 Q397.7,280.3 397.5,285.0 Q396.9,282.7 393.3,283.4 Q390.6,281.2 390.1,280.3 Q387.7,277.7 387.3,276.7 M399.1,278.3 Q402.2,278.6 403.0,280.5 Q402.1,283.6 400.6,284.4 Q402.3,284.6 400.8,288.8 Q401.0,290.3 405.2,289.9 M418.4,253.0 Q417.0,249.6 414.7,250.4 Q410.9,249.4 410.5,252.1 Q406.7,255.7 407.1,255.1 Q406.0,257.7 404.7,258.8 M422.0,286.3 Q421.0,286.1 420.9,290.7 Q422.1,295.3 421.4,295.1 Q420.4,297.0 417.8,297.8 Q418.5,298.6 421.0,300.9 M414.9,249.1 Q414.7,252.3 411.6,252.1 Q407.7,254.2 407.3,253.6 Q406.6,250.9 405.3,249.6 Q402.6,248.6 403.4,245.5 M435.4,270.4 Q435.8,271.4 439.2,268.0 Q439.9,265.6 443.6,267.4 Q445.1,266.4 445.9,263.5 Q447.8,260.6 445.5,259.0 M403.4,250.0 Q405.7,248.0 403.8,245.6 Q404.8,242.2 405.2,241.3 Q409.9,243.3 409.6,242.2 Q409.6,245.1 413.4,244.7 M392.8,290.2 Q394.0,290.9 391.9,294.6 Q388.9,294.4 390.2,298.8 Q394.2,302.6 393.4,302.1 Q392.8,305.1 394.3,306.5 M420.2,263.4 Q418.0,259.7 420.6,259.0 Q418.8,256.1 420.6,254.5 Q419.5,252.4 421.6,250.1 Q420.6,247.4 419.0,246.4 M414.3,245.6 Q414.4,246.5 409.9,246.5 Q407.4,247.8 405.7,247.9 Q404.9,248.3 401.5,246.3 Q401.8,247.3 397.2,244.9 M427.4,264.9 Q427.2,265.4 422.9,265.7 Q420.3,267.9 418.4,266.1 Q414.6,268.7 415.1,269.1 Q414.6,268.1 411.7,266.2 M421.1,259.4 Q417.9,261.0 418.5,263.1 Q416.7,262.7 415.9,266.8 Q413.8,266.1 411.5,267.9 Q409.7,268.4 408.9,271.6 M379.4,291.0 Q383.3,291.4 383.5,292.7 Q382.4,296.1 383.9,297.2 Q385.6,297.4 383.3,301.6 Q379.3,302.6 379.1,303.2 M433.2,243.6 Q433.9,243.1 436.3,246.9 Q436.5,248.1 433.6,250.4 Q433.7,250.4 432.9,254.9 Q437.1,254.0 437.4,255.0 M405.6,292.2 Q406.3,290.6 410.0,291.1 Q412.6,291.7 411.3,295.4 Q408.7,296.6 407.7,298.1 Q410.2,302.8 408.8,302.4 M387.5,276.5 Q383.4,275.7 383.7,278.9 Q380.6,280.4 379.4,277.8 Q380.4,273.8 379.4,273.3 Q383.0,271.3 382.3,269.9 M380.0,255.2 Q376.5,254.6 376.0,257.2 Q376.4,260.9 375.2,261.6 Q376.7,265.7 376.6,265.9 Q375.1,267.2 376.4,270.4 M431.7,278.3 Q428.3,282.5 428.9,281.8 Q428.1,284.0 426.9,285.8 Q429.5,285.6 431.1,287.6 Q434.6,284.4 435.0,285.4 M392.6,282.9 Q394.5,282.9 395.9,286.0 Q397.0,285.5 393.3,289.7 Q393.6,291.1 391.3,293.7 Q389.3,291.1 387.2,291.7 M409.1,277.1 Q408.4,277.9 404.8,278.5 Q404.4,280.1 400.5,279.8 Q400.6,278.7 396.1,280.8 Q392.9,279.8 393.0,277.6" stroke="#d4e6fa" stroke-width="1"/>
  </g>
  <rect x="377.2" y="245.6" width="57" height="48" fill="none" stroke="#2a3a5a" stroke-width="0.8"/>
  <path d="M414,263 L441,252 M434,270 L452,283 M397,287 L403,298 M416,285 L401,298" stroke="#222" stroke-width="0.5" fill="none"/>
  <text x="442.4" y="254" font-size="7.2" fill="#222" textLength="14" lengthAdjust="spacingAndGlyphs" stroke="#222" stroke-width="0.06">DBA</text>
  <text x="400" y="302" font-size="7.2" fill="#222" text-anchor="middle" stroke="#222" stroke-width="0.06" textLength="29.8" lengthAdjust="spacingAndGlyphs">PVC chains</text>
  <!-- gel dish -->
  <path d="M435.6,286 V290 Q435.6,296 459.4,296 Q483.3,296 483.3,290 V286 Z" fill="#d4dce6" stroke="#aab4c0" stroke-width="0.5"/>
  <ellipse cx="459.4" cy="286" rx="23.8" ry="7.5" fill="#eef3f8" stroke="#a8b4c2" stroke-width="0.7"/>
  <ellipse cx="459.4" cy="287" rx="20" ry="5.5" fill="#b8daf0"/>
  <text x="457.8" y="306" font-size="7.2" fill="#222" text-anchor="middle" stroke="#222" stroke-width="0.06" textLength="21.5" lengthAdjust="spacingAndGlyphs">PVC gel</text>
  <g font-size="7.2" fill="#e02828" stroke="#e02828" stroke-width="0.06">
    <text x="484.4" y="282" textLength="57" lengthAdjust="spacingAndGlyphs">Evaluation of dielectric</text>
    <text x="484.4" y="289.2" textLength="56" lengthAdjust="spacingAndGlyphs">and electromechanical</text>
    <text x="484.4" y="296.2" textLength="26" lengthAdjust="spacingAndGlyphs">properties.</text>
  </g>
</g>


<!-- ===== panel e ===== -->
<g id="pe">
  <defs>
    <linearGradient id="gArrowG" x1="0" y1="0" x2="1" y2="0">
      <stop offset="0" stop-color="#c4dcb0"/><stop offset="1" stop-color="#4e9a3e"/>
    </linearGradient>
    <linearGradient id="gArrowGL" x1="1" y1="0" x2="0" y2="0">
      <stop offset="0" stop-color="#c4dcb0"/><stop offset="1" stop-color="#4e9a3e"/>
    </linearGradient>
    <linearGradient id="gArrowGD" x1="0" y1="0" x2="0" y2="1">
      <stop offset="0" stop-color="#c4dcb0"/><stop offset="1" stop-color="#4e9a3e"/>
    </linearGradient>
    <linearGradient id="gGlass" x1="0" y1="0" x2="1" y2="0">
      <stop offset="0" stop-color="#b4d8e6"/><stop offset="0.5" stop-color="#e2f1f5"/><stop offset="1" stop-color="#accfe0"/>
    </linearGradient>
    <g id="beakerE">
      <rect x="0" y="2.5" width="21.5" height="27" rx="2.5" fill="url(#gGlass)" stroke="#88c0d4" stroke-width="0.6"/>
      <ellipse cx="10.75" cy="2.2" rx="11.2" ry="1.8" fill="#74bcd4"/>
      <path d="M16,15 V27 M16,17 H18 M16,20 H18 M16,23 H18 M16,26 H18" stroke="#8aa8b8" stroke-width="0.4"/>
    </g>
  </defs>
  <rect x="66.5" y="357.8" width="246.5" height="120" fill="#e8eee4"/>
  <rect x="66" y="342.5" width="22" height="22.3" fill="#fff"/>
  <text x="71.5" y="358.2" font-size="10.5" fill="#222" stroke="#222" stroke-width="0.06">(e)</text>
  <!-- PVC powder scoop -->
  <path d="M72,367 L84.2,366.3 L95.2,382.6 L73.2,373.5 Z" fill="#c4cce8" stroke="#6a74a0" stroke-width="0.6"/>
  <path d="M72,367 L95.2,382.6" stroke="#6a74a0" stroke-width="0.5"/>
  <path d="M82,373 Q86,371 89,377 Z" fill="#fafcff"/>
  <g font-size="7.2" fill="#3a58c8" text-anchor="middle" stroke="#3a58c8" stroke-width="0.06">
    <text x="104.5" y="371.5" textLength="12.4" lengthAdjust="spacingAndGlyphs">PVC</text>
    <text x="104.5" y="380" textLength="19.4" lengthAdjust="spacingAndGlyphs">Powder</text>
  </g>
  <!-- DBA bottle -->
  <defs>
    <linearGradient id="gDBA" x1="0" y1="0" x2="1" y2="0"><stop offset="0" stop-color="#8c8884"/><stop offset="0.45" stop-color="#a8a098"/><stop offset="1" stop-color="#8a5a3a"/></linearGradient>
    <linearGradient id="gHS" x1="0" y1="0" x2="1" y2="0"><stop offset="0" stop-color="#2a62c8"/><stop offset="0.45" stop-color="#4a8ae0"/><stop offset="0.5" stop-color="#f2eef2"/><stop offset="1" stop-color="#f4dce4"/></linearGradient>
    <linearGradient id="gES" x1="0" y1="0" x2="1" y2="0"><stop offset="0" stop-color="#6a72c8"/><stop offset="0.5" stop-color="#a4ace8"/><stop offset="1" stop-color="#c4c8f0"/></linearGradient>
  </defs>
  <g transform="rotate(42 135 374.5)">
    <rect x="121.5" y="368.5" width="19.5" height="12" rx="3" fill="url(#gDBA)"/>
    <rect x="140.5" y="371.5" width="4.5" height="6" fill="#7a5030"/>
    <rect x="144.5" y="370.8" width="4" height="7.4" rx="1" fill="#6a4020"/>
  </g>
  <!-- Heat stabilizer bottle -->
  <g transform="rotate(45 181.1 373.2)">
    <rect x="167.6" y="367.2" width="19.5" height="12" rx="3" fill="url(#gHS)"/>
    <rect x="186.6" y="370.2" width="4.5" height="6" fill="#f0c4d0"/>
    <rect x="190.6" y="369.5" width="4" height="7.4" rx="1" fill="#e494ac"/>
  </g>
  <g font-size="7.2" fill="#e87090" stroke="#e87090" stroke-width="0.06">
    <text x="197.8" y="370" textLength="12" lengthAdjust="spacingAndGlyphs">Heat</text>
    <text x="190.6" y="377.2" textLength="24.6" lengthAdjust="spacingAndGlyphs">Stabilizer</text>
  </g>
  <!-- ESBO bottle -->
  <g transform="rotate(45 228.1 372.9)">
    <rect x="214.6" y="366.9" width="19.5" height="12" rx="3" fill="url(#gES)"/>
    <rect x="233.6" y="369.9" width="4.5" height="6" fill="#b8bce8"/>
    <rect x="237.6" y="369.2" width="4" height="7.4" rx="1" fill="#8890d8"/>
  </g>
  <text x="146.2" y="373.7" font-size="7.2" fill="#d8904a" textLength="13.5" lengthAdjust="spacingAndGlyphs" stroke="#d8904a" stroke-width="0.06">DBA</text>
  <text x="238.8" y="373.3" font-size="7.2" fill="#6068b8" textLength="16.7" lengthAdjust="spacingAndGlyphs" stroke="#6068b8" stroke-width="0.06">ESBO</text>
  <!-- Antioxidant scoop -->
  <path d="M262.6,366.1 L273.7,365.3 L285.6,381.2 L263.4,370.9 Z" fill="#a4a4a8" stroke="#505054" stroke-width="0.6"/>
  <path d="M262.6,366.1 L285.6,381.2" stroke="#505054" stroke-width="0.5"/>
  <path d="M272,370.5 Q276,369.5 279,375 Z" fill="#f4f4f4"/>
  <text x="281.7" y="373.3" font-size="7.2" fill="#3a4050" textLength="30" lengthAdjust="spacingAndGlyphs" stroke="#3a4050" stroke-width="0.06">Antioxidant</text>
  <!-- beakers -->
  <use href="#beakerE" x="84" y="388.3"/>
  <rect x="89" y="406" width="6" height="4" fill="#f4f8fa"/>
  <g>
    <use href="#beakerE" x="132" y="388.3"/>
    <path d="M132.3,407.5 Q142,404 153.2,407 V415.3 Q153.2,417.8 150.5,417.8 H135 Q132.3,417.8 132.3,415.3 Z" fill="#3a72d2"/>
    <rect x="136.5" y="405" width="6" height="4" fill="#f4f8fa"/>
  </g>
  <g>
    <use href="#beakerE" x="180.3" y="388.3"/>
    <path d="M180.6,404.5 Q190,402.5 201.5,404 V415.3 Q201.5,417.8 199,417.8 H183 Q180.6,417.8 180.6,415.3 Z" fill="#3a72d2"/>
    <rect x="185" y="404" width="6" height="4" fill="#f4f8fa"/>
  </g>
  <g>
    <use href="#beakerE" x="227.3" y="388.3"/>
    <path d="M227.6,402.5 Q237,401 248.5,402.5 V415.3 Q248.5,417.8 246,417.8 H230 Q227.6,417.8 227.6,415.3 Z" fill="#3a72d2"/>
    <rect x="232" y="404" width="6" height="4" fill="#f4f8fa"/>
  </g>
  <g>
    <use href="#beakerE" x="274.2" y="388.3"/>
    <path d="M274.5,401 Q284,399.5 295.5,401 V415.3 Q295.5,417.8 293,417.8 H277 Q274.5,417.8 274.5,415.3 Z" fill="#3a72d2"/>
    <rect x="279" y="404" width="6" height="4" fill="#f4f8fa"/>
  </g>
  <!-- mix labels and arrows -->
  <g font-size="7.2" fill="#2a2a2a" text-anchor="middle" stroke="#2a2a2a" stroke-width="0.06">
    <text x="118.3" y="395" textLength="11" lengthAdjust="spacingAndGlyphs">Mix</text><text x="166.5" y="395" textLength="11" lengthAdjust="spacingAndGlyphs">Mix</text><text x="214.6" y="395" textLength="11" lengthAdjust="spacingAndGlyphs">Mix</text><text x="261.5" y="395" textLength="11" lengthAdjust="spacingAndGlyphs">Mix</text>
  </g>
  <g fill="url(#gArrowG)">
    <path d="M112.4,400.3 H121.9 V396.8 L128,402.6 L121.9,408.4 V404.9 H112.4 Z"/>
    <path d="M160.8,400.3 H170.3 V396.8 L176.4,402.6 L170.3,408.4 V404.9 H160.8 Z"/>
    <path d="M208.8,400.3 H218.3 V396.8 L224.4,402.6 L218.3,408.4 V404.9 H208.8 Z"/>
    <path d="M255.8,400.3 H265.3 V396.8 L271.4,402.6 L265.3,408.4 V404.9 H255.8 Z"/>
  </g>
  <g fill="url(#gArrowGL)">
    <path d="M144.4,458.7 H134.9 V455.2 L128.9,461 L134.9,466.8 V463.3 H144.4 Z"/>
    <path d="M196.7,459.4 H187.2 V455.9 L181.2,461.7 L187.2,467.5 V464 H196.7 Z"/>
    <path d="M245.6,459.4 H236.1 V455.9 L230.1,461.7 L236.1,467.5 V464 H245.6 Z"/>
  </g>
  <path d="M290.8,424 H295.8 V432 H299 L293.3,439.4 L287.6,432 H290.8 Z" fill="url(#gArrowGD)"/>
  <!-- photo -->
  <rect x="68.4" y="441.8" width="56.5" height="35" fill="#0c0c0c"/>
  <path d="M74,453 Q95,450 117,455.5 L113,472 L80,472 Z" fill="#8c8a86"/>
  <path d="M80,462 Q90,466 96,462 L108,458 L113,472 L84,472 Z" fill="#5a5854"/>
  <path d="M94,466 L106,460 L109,472 L92,472 Z" fill="#2e2e2c"/>
  <path d="M76.5,447.5 Q80.5,448 79.5,452 L72.5,472 L68.4,472 L68.4,461 Z" fill="#5c9ae2"/>
  <path d="M112.5,455.5 Q118,450.5 123.5,455 L124.9,472 L113,472 Q110,463 112.5,455.5 Z" fill="#5c9ae2"/>
  <text x="99.3" y="448.5" font-size="7.2" fill="#fff" text-anchor="middle" font-weight="bold" stroke="#fff" stroke-width="0.06" textLength="18.7" lengthAdjust="spacingAndGlyphs">Pvc gel</text>
  <g font-size="7.2" fill="#2a2a2a" stroke="#2a2a2a" stroke-width="0.06">
    <text x="127.8" y="452.2" textLength="21" lengthAdjust="spacingAndGlyphs">Peel Off</text>
    <text x="178.9" y="454.6" textLength="22.1" lengthAdjust="spacingAndGlyphs">Gelation</text>
    <text x="234.4" y="454.6" textLength="12.3" lengthAdjust="spacingAndGlyphs">Cast</text>
    <text x="256.7" y="428.8" textLength="29.5" lengthAdjust="spacingAndGlyphs">Heat &amp; Stir</text>
    <text x="258.9" y="462.1" textLength="17.1" lengthAdjust="spacingAndGlyphs">10 min</text>
  </g>
  <!-- blue dish -->
  <ellipse cx="163.3" cy="470" rx="17.7" ry="10.5" fill="#a8cce8"/>
  <ellipse cx="163.3" cy="470" rx="16.5" ry="9.5" fill="#3a7cd4"/>
  <path d="M150,466 Q163,461 176,466" stroke="#6aa0e0" stroke-width="0.8" fill="none"/>
  <!-- tilted beaker -->
  <g transform="rotate(-122 219.5 450.5)">
    <rect x="209" y="435.5" width="21" height="30" rx="2.5" fill="#cfe9f2" stroke="#7ab8d0" stroke-width="0.6"/>
    <rect x="209" y="449" width="21" height="16.5" rx="2.5" fill="#3a72d2"/>
    <rect x="225" y="449" width="5" height="16.5" fill="#5a8ee0" opacity="0.6"/>
    <ellipse cx="219.5" cy="436" rx="11.5" ry="2.2" fill="#8ccce0"/>
    <rect x="216.5" y="453" width="5" height="5.5" fill="#f4f8fa"/>
  </g>
  <!-- gray dish bottom -->
  <ellipse cx="210" cy="472" rx="8" ry="3" fill="#f0f2f0" stroke="#b8c0c0" stroke-width="0.6"/>
  <!-- stand -->
  <path d="M251.7,428.3 V475" stroke="#b4b4b4" stroke-width="1.2"/>
  <path d="M251.6,436 L284.4,438" stroke="#444" stroke-width="0.6"/>
  <circle cx="251.6" cy="436" r="1.1" fill="#222"/>
  <rect x="281" y="436.8" width="7.4" height="8.2" rx="1" fill="#585c66"/>
  <path d="M285,445 V470" stroke="#b0b0b0" stroke-width="1.1"/>
  <path d="M272,473 L276,469 H300 L304,473 Z" fill="#2c52b8"/>
  <!-- timer -->
  <path d="M264.3,455 A4.6,4.6 0 1 1 268.5,456.3" fill="none" stroke="#1a1a1a" stroke-width="1.1"/>
  <circle cx="264.2" cy="455" r="0.9" fill="#1a1a1a"/>
  <path d="M268,448.2 V451.8 L265.8,453.2" stroke="#1a1a1a" stroke-width="0.9" fill="none"/>
  <path d="M265.5,447 L268.5,446.3" stroke="#1a1a1a" stroke-width="0.8"/>
</g>


<!-- ===== panel f ===== -->
<g id="pf">
  <defs>
    <linearGradient id="gBeakF" x1="0" y1="0" x2="1" y2="0">
      <stop offset="0" stop-color="#c4c4c6"/><stop offset="0.45" stop-color="#f2f2f2"/><stop offset="1" stop-color="#c8c8ca"/>
    </linearGradient>
    <linearGradient id="gPen" x1="0" y1="0" x2="1" y2="0">
      <stop offset="0" stop-color="#9ccfd4"/><stop offset="0.5" stop-color="#80b8c0"/><stop offset="1" stop-color="#5e98a4"/>
    </linearGradient>
  </defs>
  <text x="326.9" y="355.5" font-size="10.5" fill="#222" stroke="#222" stroke-width="0.06">(f)</text>
  <text x="345.5" y="385.8" font-size="7.2" fill="#222" font-weight="bold" textLength="19.5" lengthAdjust="spacingAndGlyphs" stroke="#222" stroke-width="0.06">Solvent</text>
  <!-- beaker -->
  <path d="M331.8,421 Q334,415 337,414 Q358,409 380,413 Q382,414 381.5,417 V475 H335.7 V424 Q333,423 331.8,421 Z" fill="url(#gBeakF)" stroke="#b4b4b8" stroke-width="0.6"/>
  <ellipse cx="358.5" cy="414.5" rx="22" ry="3" fill="none" stroke="#c8c8cc" stroke-width="0.8"/>
  <rect x="336" y="457" width="45.3" height="18" fill="#a6dcd8"/>
  <rect x="342.5" y="449.2" width="13.3" height="8.8" rx="1.5" fill="#111"/>
  <text x="349" y="463.5" font-size="3.5" fill="#222" text-anchor="middle" font-weight="bold" stroke="#222" stroke-width="0.06">200 ml</text>
  <path d="M359.1,441.4 V472 M359.1,441.4 H367 M359.1,450 H365 M359.1,458.5 H367 M359.1,467 H365" stroke="#222" stroke-width="0.7" fill="none"/>
  <g font-size="3.2" fill="#222" font-weight="bold" stroke="#222" stroke-width="0.06"><text x="368" y="442.5">200</text><text x="366" y="451">150</text><text x="368" y="459.5">100</text><text x="366" y="468">50</text></g>
  <!-- steam -->
  <g fill="none" stroke="#76a8a2" stroke-width="1.2">
    <path d="M347.2,394.7 C343,396 341,399 343.5,402.5 C346,405.5 351.5,407 350.7,410 C350,413 347,416 346.4,418.6"/>
    <path d="M358.09999999999997,394.7 C353.9,396 351.9,399 354.4,402.5 C356.9,405.5 362.4,407 361.59999999999997,410 C360.9,413 357.9,416 357.29999999999995,418.6"/>
    <path d="M368.8,394.7 C364.6,396 362.6,399 365.1,402.5 C367.6,405.5 373.1,407 372.3,410 C371.6,413 368.6,416 368.0,418.6"/>
  </g>
  <text x="381.5" y="437.5" font-size="7.2" fill="#222" textLength="21.5" lengthAdjust="spacingAndGlyphs" stroke="#222" stroke-width="0.06">Loading</text>
  <path d="M383.5,444.3 H400" stroke="#222" stroke-width="0.8"/>
  <path d="M403,444.3 L399,442.5 L399,446.1 Z" fill="#222"/>
  <!-- plate -->
  <path d="M410.3,455 L443.2,431.8 L562,452.5 L562,456.5 L529,479 L410.3,459 Z" fill="#b4b4b8"/>
  <path d="M410.3,455 L443.2,431.8 L562,452.5 L529,475 Z" fill="#dcdcde"/>
  <path d="M439.2,448.8 L452.7,440.7 L535,455 L526.5,463 Z" fill="#62c8c4"/>
  <!-- inset -->
  <rect x="434.4" y="380.6" width="57.3" height="37.7" rx="2" fill="#d6d6d8" stroke="#222" stroke-width="1.1" stroke-dasharray="2.6 1.6"/>
  <rect x="440.6" y="408.3" width="50" height="4.5" fill="#747a8a"/>
  <path d="M443.3,406.7 H472 Q478,406.7 478,400 V386" fill="none" stroke="#5ad0d8" stroke-width="2.8"/>
  <rect x="472.8" y="381" width="10.5" height="5.8" fill="#5ad0d8"/>
  <g fill="none" stroke="#9ae0e4" stroke-width="0.8">
    <path d="M449,394 q-2,2 0,4 q2,2 0,4"/><path d="M456,394 q-2,2 0,4 q2,2 0,4"/><path d="M463,394 q-2,2 0,4 q2,2 0,4"/>
  </g>
  <path d="M451,390 H460" stroke="#111" stroke-width="1.4"/>
  <path d="M462,390 L459,388.3 L459,391.7 Z" fill="#111"/>
  <text x="454.5" y="387.5" font-size="7.2" font-style="italic" fill="#3a3018" stroke="#3a3018" stroke-width="0.06">V</text>
  <text x="466" y="398.5" font-size="7.2" font-style="italic" fill="#3a3018" stroke="#3a3018" stroke-width="0.06">d</text>
  <path d="M471,396.5 H476 M481,396.5 H485" stroke="#333" stroke-width="0.5"/>
  <text x="485.5" y="407.5" font-size="7.2" font-style="italic" fill="#3a3018" stroke="#3a3018" stroke-width="0.06">H</text>
  <path d="M482,402 V408" stroke="#333" stroke-width="0.5"/>
  <!-- dashed projection lines -->
  <path d="M491.7,381 L524.6,462.5 M491.7,418.3 L524.6,462.5" stroke="#222" stroke-width="1.1" stroke-dasharray="2.4 1.6" fill="none"/>
  <!-- pen -->
  <path d="M522.1,411 V446 L524.7,462.5 L526,462.5 L530.8,446 V411 Z" fill="url(#gPen)"/>
  <path d="M522.3,446 L530.6,446 L525.5,458 Z" fill="#e8c8a8"/>
  <path d="M524.5,455 L526.5,455 L525.5,462.5 Z" fill="#333"/>
  <ellipse cx="526.45" cy="411" rx="4.35" ry="1.6" fill="#6cd0d4"/>
</g>

<!-- red band -->
<rect x="63" y="314.4" width="501.5" height="21" fill="#ea1f28"/>
<text x="243.5" y="327.1" font-size="10.1" fill="#3e0e0e" stroke="#3e0e0e" stroke-width="0.1" textLength="139.5" lengthAdjust="spacingAndGlyphs">Rapid manufacturing technologies</text>

</svg>
</body></html>
